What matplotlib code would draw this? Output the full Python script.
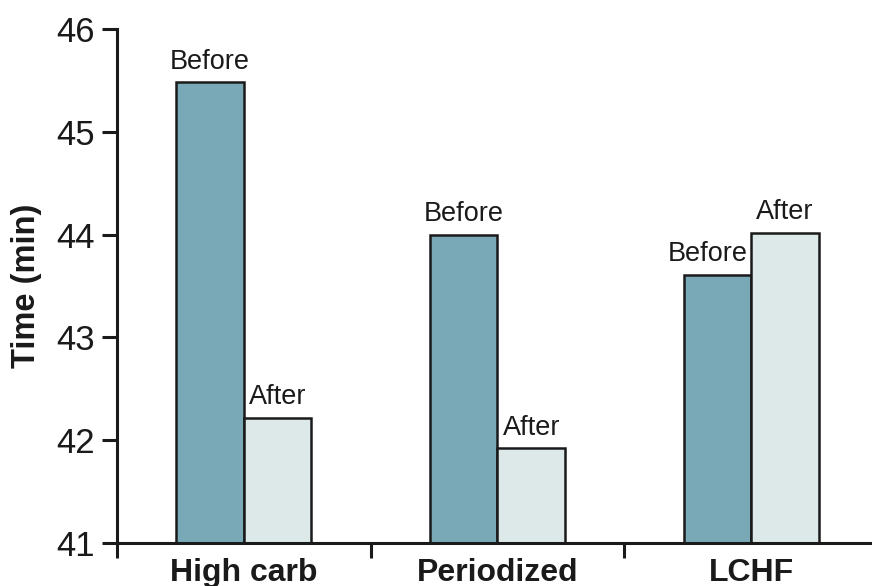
import matplotlib
matplotlib.use("Agg")
import matplotlib.pyplot as plt
import numpy as np

categories = ["High carb", "Periodized", "LCHF"]
before = [45.48, 44.00, 43.61]
after = [42.22, 41.92, 44.02]
yticks = [41, 42, 43, 44, 45, 46]

plt.rcParams['font.family'] = ['Liberation Sans', 'DejaVu Sans']

fig = plt.figure(figsize=(8.72, 5.86), dpi=100)
ax = fig.add_axes([0.134, 0.0734, 0.866, 0.8771])

x = np.arange(len(categories))
w = 0.266
c_before = "#79a9b7"
c_after = "#dde8e9"
ec = "#1a1a1a"
ax.bar(x - w/2, np.array(before) - 41, w, bottom=41, color=c_before, edgecolor=ec, linewidth=1.8)
ax.bar(x + w/2, np.array(after) - 41, w, bottom=41, color=c_after, edgecolor=ec, linewidth=1.8)

tc = "#1a1a1a"
for i in range(len(categories)):
    if i == 2:
        ax.text(x[i] - 0.012, before[i] + 0.07, "Before", ha="right", va="bottom", fontsize=19.5, color=tc)
    else:
        ax.text(x[i] - w/2, before[i] + 0.07, "Before", ha="center", va="bottom", fontsize=19.5, color=tc)
    ax.text(x[i] + w/2, after[i] + 0.07, "After", ha="center", va="bottom", fontsize=19.5, color=tc)

ax.set_xlim(-0.497, 2.476)
ax.set_ylim(41, 46)
ax.set_yticks(yticks)
ax.set_yticklabels([str(t) for t in yticks], fontsize=25, color=tc)
ax.tick_params(axis="y", direction="out", length=11, width=2.2, pad=5, color=tc)

ax.set_xticks([-0.5, 0.5, 1.5])
ax.set_xticklabels([])
ax.tick_params(axis="x", which="major", direction="out", length=11, width=2.2, color=tc)
ax.set_xticks(x, minor=True)
ax.set_xticklabels(categories, minor=True, fontsize=23, fontweight="bold", color=tc)
ax.tick_params(axis="x", which="minor", length=0, pad=11)

for s in ["top", "right"]:
    ax.spines[s].set_visible(False)
for s in ["left", "bottom"]:
    ax.spines[s].set_linewidth(2.2)
    ax.spines[s].set_color(tc)

ax.set_ylabel("Time (min)", fontsize=23.5, fontweight="bold", labelpad=10, color=tc)

fig.savefig("out.png", dpi=100)
